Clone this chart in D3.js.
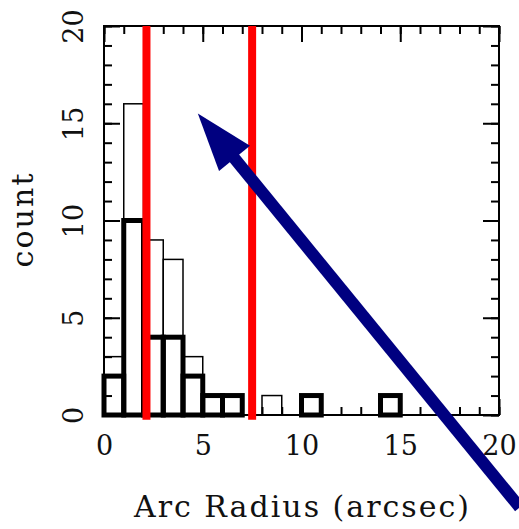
<!DOCTYPE html>
<html>

<head>
  <meta charset="utf8">
  <script src="https://d3js.org/d3.v7.min.js"></script>
  <style>
    body { margin: 0; background: #fff; }
    text { font-family: "DejaVu Serif", serif; fill: #111; }
    .axis line { stroke: #000; stroke-width: 2; }
    .axis path { display: none; }
  </style>
</head>

<body>
  <svg id="chart" width="519" height="529"></svg>

  <script>
    // histogram bins (lower edges, width 1 arcsec)
    var binStarts = d3.range(0, 20);
    var allCounts = [3, 16, 9, 8, 3, 1, 1, 0, 1, 0, 1, 0, 0, 0, 1, 0, 0, 0, 0, 0];
    var selCounts = [2, 10, 4, 4, 2, 1, 1, 0, 0, 0, 1, 0, 0, 0, 1, 0, 0, 0, 0, 0];
    var cutLines = [2.15, 7.5];
    var xTicks = [0, 5, 10, 15, 20];
    var yTicks = [0, 5, 10, 15, 20];
    var arrowTip = { x: 4.75, y: 15.5 };
    var arrowTail = { x: 21.05, y: -4.75 };

    var chart = d3.select('#chart');
    var margin = { top: 26, right: 20, bottom: 114, left: 104 };
    var width = chart.attr('width') - margin.left - margin.right;
    var height = chart.attr('height') - margin.top - margin.bottom;

    var x = d3.scaleLinear().domain([0, 20]).range([margin.left, margin.left + width]);
    var y = d3.scaleLinear().domain([0, 20]).range([margin.top + height, margin.top]);

    function bars(counts, cls, sw) {
      chart.append('g').attr('class', cls)
        .selectAll('rect')
        .data(binStarts)
        .enter().append('rect')
        .attr('x', (d) => x(d))
        .attr('y', (d, i) => y(counts[i]))
        .attr('width', (d) => x(d + 1) - x(d))
        .attr('height', (d, i) => y(0) - y(counts[i]))
        .attr('fill', 'none')
        .attr('stroke', '#000')
        .attr('stroke-width', sw);
    }

    bars(allCounts, 'all', 1.5);

    // ticks (inward) on all four sides
    var minor = d3.range(0, 21);
    function addAxis(axisFn, scale, tr, values, size) {
      var a = axisFn(scale).tickValues(values).tickSize(size).tickFormat('');
      return chart.append('g').attr('class', 'axis').attr('transform', tr).call(a);
    }
    addAxis(d3.axisBottom, x, 'translate(0,' + y(0) + ')', minor, -8);
    addAxis(d3.axisTop, x, 'translate(0,' + y(20) + ')', minor, -8);
    addAxis(d3.axisTop, x, 'translate(0,' + y(20) + ')', xTicks, -16);
    addAxis(d3.axisLeft, y, 'translate(' + x(0) + ',0)', minor, -8);
    addAxis(d3.axisRight, y, 'translate(' + x(20) + ',0)', minor, -8);
    addAxis(d3.axisRight, y, 'translate(' + x(20) + ',0)', yTicks, -16);

    var xAx = chart.append('g').attr('class', 'axis')
      .attr('transform', 'translate(0,' + y(0) + ')')
      .call(d3.axisBottom(x).tickValues(xTicks).tickSize(-16).tickPadding(20.5));
    xAx.selectAll('text').style('font-size', '27px').attr('fill', '#111');

    var yAx = chart.append('g').attr('class', 'axis')
      .attr('transform', 'translate(' + x(0) + ',0)')
      .call(d3.axisLeft(y).tickValues(yTicks).tickSize(-16));
    yAx.selectAll('text')
      .style('font-size', '27px')
      .attr('fill', '#111')
      .attr('x', null).attr('dy', null)
      .attr('text-anchor', 'middle')
      .attr('transform', 'translate(-21,0) rotate(-90)');

    // frame
    chart.append('rect')
      .attr('x', x(0)).attr('y', y(20))
      .attr('width', x(20) - x(0)).attr('height', y(0) - y(20))
      .attr('fill', 'none').attr('stroke', '#000').attr('stroke-width', 2);

    bars(selCounts, 'sel', 5);

    // red cut lines
    chart.append('g').selectAll('line')
      .data(cutLines)
      .enter().append('line')
      .attr('x1', (d) => x(d)).attr('x2', (d) => x(d))
      .attr('y1', y(20)).attr('y2', y(-0.25))
      .attr('stroke', '#ff0000').attr('stroke-width', 8);

    // axis titles
    chart.append('text')
      .attr('x', (x(0) + x(20)) / 2).attr('y', 517)
      .attr('text-anchor', 'middle')
      .attr('textLength', 335).attr('lengthAdjust', 'spacing')
      .style('font-size', '30px')
      .text('Arc Radius (arcsec)');

    chart.append('text')
      .attr('transform', 'translate(33,' + (y(0) + y(20)) / 2 + ') rotate(-90)')
      .attr('text-anchor', 'middle')
      .attr('textLength', 94).attr('lengthAdjust', 'spacing')
      .style('font-size', '30px')
      .text('count');

    // navy arrow
    var tip = [x(arrowTip.x), y(arrowTip.y)];
    var tail = [x(arrowTail.x), y(arrowTail.y)];
    var len = Math.hypot(tail[0] - tip[0], tail[1] - tip[1]);
    var u = [(tail[0] - tip[0]) / len, (tail[1] - tip[1]) / len];
    var n = [-u[1], u[0]];
    var headLen = 58, headHalf = 20;
    var base = [tip[0] + u[0] * headLen, tip[1] + u[1] * headLen];

    chart.append('line')
      .attr('x1', tail[0]).attr('y1', tail[1])
      .attr('x2', base[0] - u[0] * 4).attr('y2', base[1] - u[1] * 4)
      .attr('stroke', '#000080').attr('stroke-width', 12);

    chart.append('path')
      .attr('d', d3.line()([
        tip,
        [base[0] + n[0] * headHalf, base[1] + n[1] * headHalf],
        [base[0] - n[0] * headHalf, base[1] - n[1] * headHalf]
      ]) + 'Z')
      .attr('fill', '#000080');
  </script>
</body>

</html>
